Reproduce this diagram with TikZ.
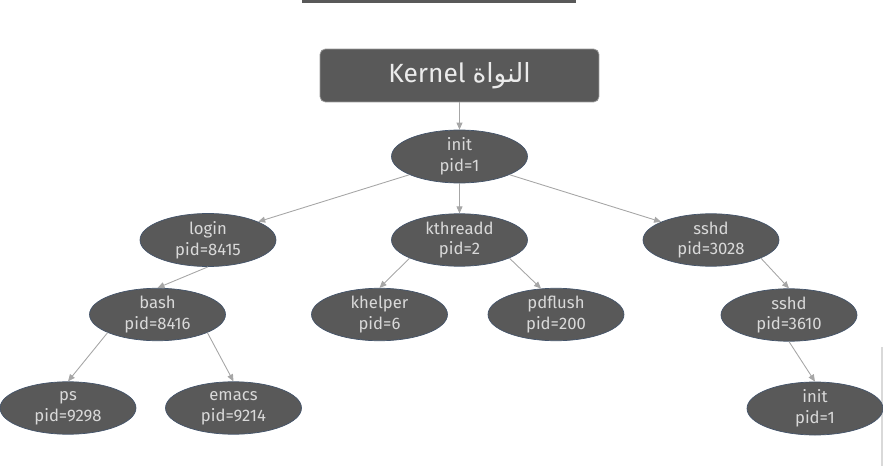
\documentclass[tikz,border=0pt]{standalone}
\usepackage{fontspec}
\setmainfont{Fira Sans}
\newfontfamily\arabicfont[Script=Arabic]{DejaVu Sans}
\TeXXeTstate=1
\usetikzlibrary{shapes.geometric,arrows.meta}
\definecolor{procfill}{HTML}{595959}
\definecolor{procline}{HTML}{44546A}
\definecolor{proctext}{HTML}{D9D9D9}
\definecolor{linkgray}{HTML}{A6A6A6}

\begin{document}
\begin{tikzpicture}[x=0.02cm,y=-0.02cm,
    proc/.style={ellipse,fill=procfill,draw=procline,line width=0.4pt,
      minimum width=2.72cm,minimum height=1.05cm,inner sep=0pt,
      text=proctext,align=center,font=\procfontsize},
    link/.style={draw=linkgray,line width=0.5pt,-{Triangle[length=4pt,width=3.4pt]}}]
    \providecommand{\procfontsize}{\fontsize{9.5}{11.9}\selectfont}
    \providecommand{\kernelfontsize}{\fontsize{15}{18}\selectfont}
    \useasboundingbox (0,0) rectangle (883,466);
    \fill[procfill] (302,0) rectangle (576,3);
    \draw[gray!30,line width=0.6pt] (882,347) -- (882,466);
    % kernel on top
    \node[rectangle,rounded corners=3pt,fill=procfill,draw=gray!80,line width=0.4pt,
      minimum width=5.58cm,minimum height=1.06cm,text=white!92!black,font=\kernelfontsize]
      (kernel) at (459.5,75.5) {Kernel {\arabicfont\beginR النواة\endR}};
    % processes
    \node[proc] (init) at (459.5,156.5) {init\\pid=1};
    \node[proc] (login) at (208,240) {login\\pid=8415};
    \node[proc] (kthreadd) at (459.5,240) {kthreadd\\pid=2};
    \node[proc] (sshd) at (711,240) {sshd\\pid=3028};
    \node[proc] (bash) at (157.5,314.5) {bash\\pid=8416};
    \node[proc] (khelper) at (379.5,314.5) {khelper\\pid=6};
    \node[proc] (pdflush) at (556,314.5) {pdflush\\pid=200};
    \node[proc] (sshdchild) at (789,315) {sshd\\pid=3610};
    \node[proc] (ps) at (68,408) {ps\\pid=9298};
    \node[proc] (emacs) at (233.5,408) {emacs\\pid=9214};
    \node[proc] (initchild) at (815,408.5) {init\\pid=1};
    % links
    \draw[link] (kernel.south) -- (init.north);
    \draw[link] (init.200) -- (login.20);
    \draw[link] (init.south) -- (kthreadd.north);
    \draw[link] (init.340) -- (sshd.160);
    \draw[link] (login.south) -- (bash.north);
    \draw[link] (kthreadd.200) -- (khelper.north);
    \draw[link] (kthreadd.340) -- (pdflush.120);
    \draw[link] (sshd.340) -- (sshdchild.north);
    \draw[link] (bash.200) -- (ps.north);
    \draw[link] (bash.340) -- (emacs.north);
    \draw[link] (sshdchild.south) -- (initchild.north);
\end{tikzpicture}
\end{document}
